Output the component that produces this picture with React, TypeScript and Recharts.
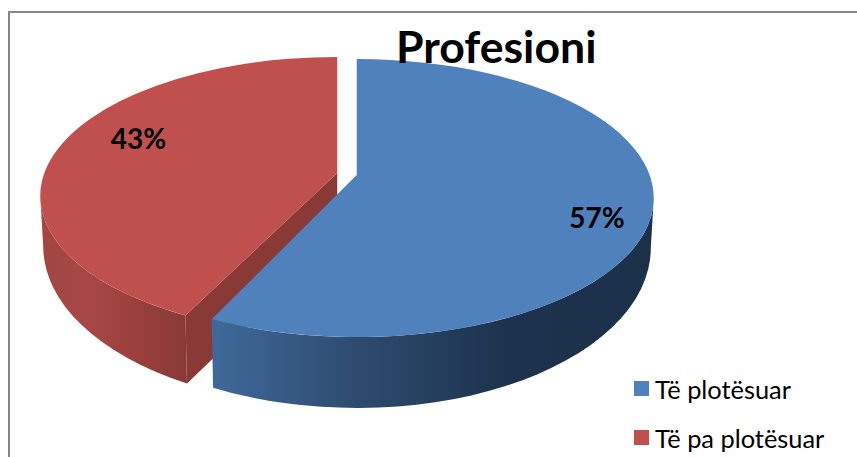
import React from 'react';
import { PieChart, Pie, Legend } from 'recharts';

const categories = ['Të plotësuar', 'Të pa plotësuar'];
const shares = [57, 43];
const faceColors = ['#4F81BD', '#C0504D'];
const cutColor = '#893A37';
const wallStops = [
  ['#3F6899', '#2D4A6D', '#1C324E', '#1B3049'],
  ['#A04643', '#A64745', '#983F3C', '#883A37'],
];
const wallSpans = [
  [216, 655],
  [41, 190],
];

// red is painted first so the blue slice sits over its cut edge
const chartData = categories
  .map((name, i) => ({ name, value: shares[i], fill: faceColors[i], slot: i }))
  .reverse();
const startAngle = 90 + shares[1] * 3.6;

const RAD = Math.PI / 180;
const Y_SQUASH = 139 / 297;
const APEX_LIFT = 23;
const EXPLODE = 10;
const RIM_DROP = 50;
const RIM_RY = 160;
const warpAmount = [9.5, 13];
const labelRadial = [0.81, 0.74];
const labelShift = [12, -14];

const warp = (clockAngle: number, slot: number) => clockAngle - warpAmount[slot] * Math.sin(clockAngle * RAD);

function rimPoint(cx: number, cy: number, rx: number, ry: number, t: number) {
  return { x: cx + rx * Math.sin(t * RAD), y: cy - ry * Math.cos(t * RAD) };
}

function sliceCentre(cx: number, cy: number, midAngle: number) {
  return {
    x: cx + EXPLODE * Math.cos(midAngle * RAD),
    y: cy - EXPLODE * Math.sin(midAngle * RAD) * Y_SQUASH,
  };
}

function PieSlice3D(props: any) {
  const { cx, cy, outerRadius, startAngle: from, endAngle: to, slot, fill } = props;
  const rx = outerRadius;
  const ry = outerRadius * Y_SQUASH;
  const o = sliceCentre(cx, cy, (from + to) / 2);
  const turn = 90 - from < 0 ? 360 : 0;
  const t0 = warp(90 - from + turn, slot);
  const t1 = warp(90 - to + turn, slot);

  const apex = { x: o.x, y: o.y - APEX_LIFT };
  const p0 = rimPoint(o.x, o.y, rx, ry, t0);
  const p1 = rimPoint(o.x, o.y, rx, ry, t1);
  const large = t1 - t0 > 180 ? 1 : 0;
  const face = `M${apex.x},${apex.y} L${p0.x},${p0.y} A${rx},${ry} 0 ${large} 1 ${p1.x},${p1.y} Z`;

  // outer wall, only where the rim faces the viewer
  const wallFrom = Math.max(t0, 90);
  const wallTo = Math.min(t1, 270);
  const lowRx = rx * 0.99;
  const lowCy = o.y + RIM_DROP;
  const top0 = rimPoint(o.x, o.y, rx, ry, wallFrom);
  const top1 = rimPoint(o.x, o.y, rx, ry, wallTo);
  const low0 = rimPoint(o.x, lowCy, lowRx, RIM_RY, wallFrom);
  const low1 = rimPoint(o.x, lowCy, lowRx, RIM_RY, wallTo);
  const wall = `M${top0.x},${top0.y} A${rx},${ry} 0 0 1 ${top1.x},${top1.y} L${low1.x},${low1.y} A${lowRx},${RIM_RY} 0 0 0 ${low0.x},${low0.y} Z`;

  // cut edge of the red slice, seen through the gap
  const cut = `M${apex.x},${apex.y} L${p0.x},${p0.y} L${low0.x},${low0.y} L${apex.x},${apex.y + 66} Z`;

  const gradId = `wall-${slot}`;
  const stops = wallStops[slot];
  return (
    <g>
      <defs>
        <linearGradient id={gradId} gradientUnits="userSpaceOnUse" x1={wallSpans[slot][0]} x2={wallSpans[slot][1]} y1="0" y2="0">
          {stops.map((c, i) => (
            <stop key={i} offset={i / (stops.length - 1)} stopColor={c} />
          ))}
        </linearGradient>
      </defs>
      {slot === 1 && <path d={cut} fill={cutColor} />}
      <path d={wall} fill={`url(#${gradId})`} />
      <path d={face} fill={fill} />
    </g>
  );
}

function renderPercent(props: any) {
  const { cx, cy, outerRadius, midAngle, value, slot } = props;
  const o = sliceCentre(cx, cy, midAngle);
  const f = labelRadial[slot];
  const p = rimPoint(o.x, o.y, outerRadius * f, outerRadius * Y_SQUASH * f, warp(90 - midAngle, slot));
  return (
    <text x={p.x} y={p.y + labelShift[slot]} textAnchor="middle" dominantBaseline="central" fontFamily="Lato" fontWeight={700} fontSize={28} fill="#000">
      {value}%
    </text>
  );
}

function LegendList({ payload }: any) {
  const rows = [...(payload || [])].sort((a: any, b: any) => categories.indexOf(a.value) - categories.indexOf(b.value));
  return (
    <div>
      {rows.map((entry: any) => (
        <div key={entry.value} style={{ display: 'flex', alignItems: 'center', height: 49 }}>
          <span style={{ width: 15, height: 15, background: entry.color, marginRight: 6 }} />
          <span style={{ fontFamily: 'Lato', fontSize: 25.4, color: '#000', whiteSpace: 'nowrap' }}>{entry.value}</span>
        </div>
      ))}
    </div>
  );
}

export default function App() {
  return (
    <div style={{ position: 'absolute', left: 0, top: 0, width: 857, height: 457, overflow: 'hidden', background: '#fff' }}>
      <div style={{ position: 'absolute', left: 8, top: 11, width: 849, height: 446, borderLeft: '2px solid #868686', borderTop: '2px solid #868686' }} />
      <div style={{ position: 'absolute', left: 0, top: 0 }}>
        <PieChart width={857} height={457} margin={{ top: 0, right: 0, bottom: 0, left: 0 }}>
          <Pie
            data={chartData}
            dataKey="value"
            nameKey="name"
            cx={347}
            cy={197}
            outerRadius={297}
            startAngle={startAngle}
            endAngle={startAngle - 360}
            stroke="none"
            isAnimationActive={false}
            shape={PieSlice3D}
            label={renderPercent}
            labelLine={false}
          />
          <Legend
            layout="vertical"
            verticalAlign="middle"
            align="center"
            wrapperStyle={{ left: 634, top: 364, width: 220, bottom: 'auto' }}
            content={<LegendList />}
          />
        </PieChart>
      </div>
      <div style={{ position: 'absolute', left: 396, top: 19, width: 200, textAlign: 'center', fontFamily: 'Lato', fontWeight: 700, fontSize: 44.6, lineHeight: '54px', color: '#000', whiteSpace: 'nowrap' }}>
        Profesioni
      </div>
    </div>
  );
}
